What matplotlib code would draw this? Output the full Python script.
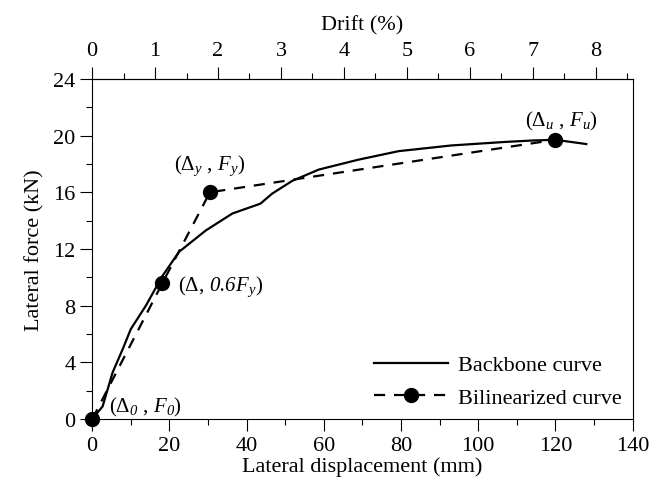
import matplotlib
matplotlib.use("Agg")
import matplotlib.pyplot as plt

# Backbone curve (lateral displacement in mm, lateral force in kN)
backbone_disp = [0, 2.7, 5.3, 8.0, 10.0, 13.9, 18.2, 22.5, 29.4, 36.3, 43.6, 46.6,
                 51.8, 58.7, 69.0, 79.4, 93.0, 107.0, 114.0, 120.0, 128.0]
backbone_force = [0, 0.9, 3.3, 5.0, 6.35, 8.0, 10.1, 11.8, 13.3, 14.5, 15.2, 15.9,
                  16.8, 17.6, 18.3, 18.9, 19.3, 19.55, 19.65, 19.7, 19.4]

# Bilinearized curve key points
bilinear_disp = [0, 18.2, 30.5, 120.0]
bilinear_force = [0, 9.6, 16.0, 19.7]
# \mathsf is mapped to the italic serif so that digits come out slanted too
point_labels = [r"$(\Delta_{\mathsf{0}}\ ,\,\mathsf{F}_{\mathsf{0}})$",
                r"$(\Delta,\,\mathsf{0.6F}_{\mathsf{y}})$",
                r"$(\Delta_{\mathsf{y}}\ ,\,\mathsf{F}_{\mathsf{y}})$",
                r"$(\Delta_{\mathsf{u}}\ ,\,\mathsf{F}_{\mathsf{u}})$"]

storey_height = 16.3  # mm per 1 % drift

plt.rcParams["font.family"] = "Liberation Serif"
plt.rcParams["mathtext.fontset"] = "custom"
plt.rcParams["mathtext.rm"] = "Liberation Serif"
plt.rcParams["mathtext.it"] = "Liberation Serif:italic"
plt.rcParams["mathtext.sf"] = "Liberation Serif:italic"

fig = plt.figure(figsize=(6.68, 5.02), dpi=100)
ax = fig.add_axes([0.138, 0.163, 0.809, 0.678])

ax.plot(backbone_disp, backbone_force, color="black", lw=1.6, label="Backbone curve")
ax.plot(bilinear_disp, bilinear_force, color="black", lw=1.6, ls=(0, (5, 4)),
        marker="o", markersize=10, clip_on=False, label="Bilinearized curve")

# label offsets in points from each marker
offsets = [(12, 9), (11, -2), (0, 20), (4, 14)]
aligns = [("left", "center"), ("left", "center"), ("center", "center"), ("center", "center")]
for x, y, lab, off, al in zip(bilinear_disp, bilinear_force, point_labels, offsets, aligns):
    ax.annotate(lab, (x, y), xytext=off, textcoords="offset points",
                ha=al[0], va=al[1], fontsize=15)

ax.set_xlim(0, 140)
ax.set_ylim(0, 24)
ax.set_xticks(range(0, 141, 20))
ax.set_xticks(range(10, 141, 20), minor=True)
ax.set_yticks(range(0, 25, 4))
ax.set_yticks(range(2, 25, 4), minor=True)
ax.tick_params(which="major", direction="out", length=8.5, labelsize=16, width=0.8)
ax.tick_params(which="minor", direction="out", length=4, width=0.8)
ax.set_xlabel("Lateral displacement (mm)", fontsize=16, labelpad=1)
ax.set_ylabel("Lateral force (kN)", fontsize=16, labelpad=6)

top = ax.secondary_xaxis("top", functions=(lambda d: d / storey_height,
                                            lambda p: p * storey_height))
top.set_xticks(range(0, 9))
top.set_xticks([i + 0.5 for i in range(0, 9)], minor=True)
top.tick_params(which="major", direction="out", length=8.5, labelsize=16, width=0.8, pad=5)
top.tick_params(which="minor", direction="out", length=4, width=0.8)
top.set_xlabel("Drift (%)", fontsize=16, labelpad=8)

for s in ax.spines.values():
    s.set_linewidth(0.8)

ax.legend(loc="lower right", frameon=False, fontsize=16, handlelength=3.3,
          handletextpad=0.45, borderaxespad=0.3, borderpad=0.2, labelspacing=0.55)

fig.savefig("out.png", dpi=100)
